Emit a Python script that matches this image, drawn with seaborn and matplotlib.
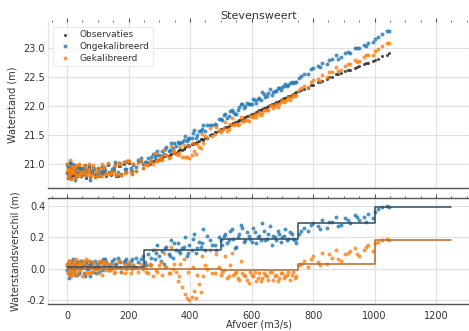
import numpy as np
import pandas as pd
import matplotlib
matplotlib.use("Agg")
import matplotlib.pyplot as plt
from matplotlib.ticker import MultipleLocator, FormatStrFormatter
import seaborn as sns

# --- data ---
# afvoer (m3/s) per observed point
afvoer = [
    0, 3, 6, 9, 12, 15, 18, 21, 24, 27,
    30, 35, 40, 45, 50, 55, 60, 65, 70, 75,
    80, 88, 96, 104, 112, 120, 128, 136, 144, 152,
    160, 168, 176, 184, 192, 200, 208, 216, 224, 232,
    240, 248, 5, 14, 33, 52, 71, 93, 117, 141,
    1, 4, 7, 11, 16, 19, 23, 28, 32, 38,
    43, 48, 57, 63, 68, 77, 84, 92, 100, 108,
    115, 124, 133, 147, 156, 164, 173, 188, 196, 212,
    255, 262, 270, 278, 285, 293, 300, 308, 315, 323,
    330, 338, 345, 353, 360, 368, 375, 383, 390, 398,
    405, 413, 420, 428, 435, 443, 450, 465, 480, 495,
    258, 274, 289, 304, 319, 334, 349, 364, 379, 394,
    409, 424, 439, 454, 470, 485, 500, 510, 520, 530,
    505, 515, 525, 535, 545, 555, 565, 575, 585, 595,
    605, 615, 625, 635, 645, 655, 665, 675, 685, 695,
    705, 715, 725, 735, 745,
    540, 550, 560, 570, 580, 590, 600, 610, 620, 630,
    640, 650, 660, 670, 680, 690, 700, 710, 720, 730, 740,
    755, 770, 785, 800, 815, 830, 845, 860, 875, 890,
    905, 920, 935, 950, 965, 980, 995, 1010, 1025, 1040, 1048,
    762, 792, 822, 852, 882, 912, 942, 972, 1002,
]
# observed water level (m)
waterstand_obs = [
    20.98, 20.80, 20.90, 21.02, 20.78, 20.86, 20.95, 20.82, 20.99, 20.77,
    20.92, 20.84, 20.97, 20.79, 20.89, 20.94, 20.81, 20.87, 20.96, 20.78,
    20.85, 20.91, 20.80, 20.88, 20.83, 20.93, 20.79, 20.86, 20.82, 20.90,
    20.80, 20.97, 20.83, 21.00, 20.86, 21.02, 20.89, 20.98, 20.88, 21.04,
    21.05, 20.93, 20.87, 20.93, 20.88, 20.83, 20.91, 20.85, 20.89, 20.84,
    20.86, 20.93, 20.76, 20.84, 20.99, 20.81, 20.91, 20.85, 20.79, 20.95,
    20.87, 20.82, 20.98, 20.76, 20.90, 20.84, 20.95, 20.78, 20.92, 20.79,
    20.96, 20.84, 20.99, 20.86, 21.01, 20.79, 20.97, 20.87, 21.03, 20.83,
    21.00, 21.02, 21.01, 21.05, 21.07, 21.08, 21.07, 21.11, 21.14, 21.15,
    21.14, 21.18, 21.21, 21.19, 21.23, 21.26, 21.25, 21.29, 21.32, 21.31,
    21.34, 21.37, 21.36, 21.40, 21.43, 21.42, 21.46, 21.50, 21.55, 21.58,
    21.01, 21.05, 21.06, 21.09, 21.14, 21.16, 21.20, 21.25, 21.27, 21.33,
    21.35, 21.38, 21.44, 21.46, 21.52, 21.55, 21.60, 21.63, 21.64, 21.68,
    21.61, 21.64, 21.65, 21.69, 21.73, 21.74, 21.76, 21.79, 21.83, 21.85,
    21.86, 21.90, 21.93, 21.95, 21.97, 22.00, 22.04, 22.06, 22.07, 22.11,
    22.14, 22.16, 22.17, 22.21, 22.25,
    21.71, 21.72, 21.76, 21.77, 21.82, 21.83, 21.87, 21.88, 21.92, 21.93,
    21.97, 21.98, 22.02, 22.03, 22.08, 22.09, 22.13, 22.14, 22.18, 22.19, 22.23,
    22.26, 22.30, 22.32, 22.37, 22.42, 22.44, 22.47, 22.51, 22.55, 22.57,
    22.60, 22.62, 22.66, 22.70, 22.72, 22.74, 22.78, 22.82, 22.86, 22.89, 22.91,
    22.28, 22.36, 22.42, 22.50, 22.55, 22.63, 22.67, 22.74, 22.79,
]
# model minus observation (m)
verschil_ongek = [
    0.02, -0.03, 0.04, 0.01, -0.02, 0.05, -0.01, 0.03, 0.00, -0.04,
    0.02, 0.04, -0.02, 0.01, 0.05, -0.03, 0.03, 0.00, 0.02, -0.05,
    0.04, 0.01, 0.03, -0.02, 0.05, 0.02, 0.04, -0.01, 0.03, 0.06,
    0.02, 0.05, -0.02, 0.04, 0.06, 0.03, 0.05, 0.02, 0.07, 0.04,
    0.06, 0.08, -0.06, 0.04, -0.04, 0.03, 0.05, -0.03, 0.06, 0.02,
    -0.01, 0.03, 0.05, -0.04, 0.02, 0.06, -0.02, 0.04, 0.01, -0.03,
    0.05, 0.02, -0.05, 0.04, 0.00, 0.03, -0.02, 0.05, 0.01, 0.04,
    -0.01, 0.06, 0.02, 0.05, 0.03, 0.07, 0.04, 0.05, 0.03, 0.06,
    0.04, 0.09, 0.02, 0.12, 0.06, 0.15, 0.08, 0.11, 0.03, 0.14,
    0.09, 0.18, 0.07, 0.12, 0.16, 0.10, 0.13, 0.20, 0.08, 0.15,
    0.12, 0.22, 0.10, 0.17, 0.14, 0.25, 0.12, 0.18, 0.15, 0.20,
    0.02, 0.07, 0.10, 0.05, 0.13, 0.08, 0.16, 0.11, 0.14, 0.10,
    0.19, 0.13, 0.16, 0.21, 0.15, 0.12, 0.18, 0.21, 0.16, 0.24,
    0.15, 0.22, 0.18, 0.25, 0.13, 0.20, 0.28, 0.17, 0.23, 0.19,
    0.26, 0.16, 0.21, 0.29, 0.18, 0.22, 0.15, 0.20, 0.24, 0.17,
    0.21, 0.18, 0.23, 0.19, 0.16,
    0.19, 0.14, 0.22, 0.26, 0.18, 0.21, 0.17, 0.23, 0.20, 0.18,
    0.24, 0.19, 0.27, 0.21, 0.18, 0.22, 0.20, 0.25, 0.19, 0.22, 0.18,
    0.22, 0.26, 0.24, 0.29, 0.27, 0.31, 0.26, 0.30, 0.33, 0.28,
    0.32, 0.29, 0.34, 0.31, 0.33, 0.35, 0.32, 0.38, 0.39, 0.40, 0.39,
    0.24, 0.28, 0.25, 0.30, 0.27, 0.31, 0.33, 0.30, 0.36,
]
verschil_gek = [
    0.03, -0.02, 0.01, 0.05, -0.04, 0.02, -0.01, 0.04, -0.03, 0.00,
    0.06, -0.02, 0.03, 0.01, -0.05, 0.04, 0.02, -0.03, 0.05, 0.01,
    -0.02, 0.03, 0.00, 0.05, -0.04, 0.02, 0.04, -0.01, 0.03, -0.03,
    0.01, 0.05, -0.02, 0.03, 0.00, 0.04, -0.03, 0.02, 0.01, -0.02,
    0.03, 0.00, 0.04, -0.05, 0.02, 0.05, -0.03, 0.01, 0.04, -0.01,
    0.02, -0.03, 0.05, 0.00, -0.02, 0.03, 0.05, -0.04, 0.02, 0.04,
    -0.01, 0.03, -0.03, 0.06, 0.01, -0.02, 0.04, 0.00, -0.03, 0.02,
    0.05, -0.01, 0.03, 0.00, -0.02, 0.04, 0.01, -0.03, 0.02, 0.00,
    0.01, -0.03, 0.03, -0.05, 0.12, -0.02, 0.02, -0.04, 0.10, 0.01,
    -0.03, 0.14, 0.00, -0.02, -0.08, 0.03, -0.12, -0.16, -0.19, -0.20,
    -0.18, -0.14, -0.19, -0.10, -0.15, -0.05, 0.02, 0.12, -0.03, 0.01,
    -0.02, 0.02, -0.01, 0.04, 0.01, -0.03, 0.03, -0.05, 0.06, -0.02,
    0.01, -0.04, 0.08, 0.00, -0.03, 0.09, -0.04, -0.01, -0.06, 0.02,
    -0.02, 0.08, -0.05, 0.10, -0.03, -0.06, 0.05, -0.04, -0.07, -0.02,
    -0.05, -0.08, -0.03, -0.06, -0.04, -0.07, -0.02, -0.05, -0.08, -0.03,
    -0.06, -0.04, -0.07, -0.02, -0.05,
    -0.04, -0.02, -0.07, -0.03, -0.05, -0.09, -0.04, -0.02, -0.06, -0.08,
    -0.03, -0.05, -0.02, -0.07, -0.04, -0.06, -0.03, -0.05, -0.02, -0.04, -0.06,
    0.02, 0.05, 0.01, 0.08, 0.04, 0.10, 0.03, 0.07, 0.12, 0.05,
    0.09, 0.11, 0.13, 0.08, 0.12, 0.15, 0.11, 0.17, 0.18, 0.19, 0.18,
    0.03, 0.06, 0.02, 0.09, 0.06, 0.10, 0.09, 0.14, 0.16,
]
# mean difference per discharge class
klassegrenzen = [0, 250, 500, 750, 1000, 1250]
gem_ongek = [0.01, 0.12, 0.19, 0.29, 0.39]
gem_gek = [0.00, 0.00, -0.01, 0.03, 0.18]

df = pd.DataFrame({
    "Afvoer": afvoer,
    "Obs": waterstand_obs,
    "dOngek": verschil_ongek,
    "dGek": verschil_gek,
})
df["Ongek"] = df["Obs"] + df["dOngek"]
df["Gek"] = df["Obs"] + df["dGek"]

sns.set_style("whitegrid")
plt.rcParams["font.family"] = ["DejaVu Sans"]
plt.rcParams["text.color"] = "#333333"
plt.rcParams["axes.labelcolor"] = "#333333"
plt.rcParams["xtick.color"] = "#333333"
plt.rcParams["ytick.color"] = "#333333"

fig = plt.figure(figsize=(4.69, 3.31), dpi=100)
ax1 = fig.add_axes([48 / 469, 1 - 188 / 331, 421 / 469, 166 / 331])
ax2 = fig.add_axes([48 / 469, 1 - 304 / 331, 421 / 469, 106 / 331])

blauw = "#1f77b4"
oranje = "#ff7f0e"

sns.scatterplot(data=df, x="Afvoer", y="Obs", ax=ax1, color="#222222", s=5,
                linewidth=0, alpha=0.8, label="Observaties")
sns.scatterplot(data=df, x="Afvoer", y="Ongek", ax=ax1, color=blauw, s=8,
                linewidth=0, alpha=0.8, label="Ongekalibreerd")
sns.scatterplot(data=df, x="Afvoer", y="Gek", ax=ax1, color=oranje, s=8,
                linewidth=0, alpha=0.8, label="Gekalibreerd")

sns.scatterplot(data=df, x="Afvoer", y="dOngek", ax=ax2, color=blauw, s=8,
                linewidth=0, alpha=0.8)
sns.scatterplot(data=df, x="Afvoer", y="dGek", ax=ax2, color=oranje, s=8,
                linewidth=0, alpha=0.8)
ax2.step(klassegrenzen, gem_ongek + gem_ongek[-1:], where="post",
         color="#2f4a5e", lw=1.1)
ax2.step(klassegrenzen, gem_gek + gem_gek[-1:], where="post",
         color="#b8692a", lw=1.1)

for ax in (ax1, ax2):
    ax.set_xlim(-62, 1307)
    ax.xaxis.set_major_locator(MultipleLocator(200))
    ax.xaxis.set_minor_locator(MultipleLocator(50))
    ax.grid(True, color="#e0e0e0", lw=0.8)
    ax.tick_params(labelsize=7, length=0, pad=2)
    ax.tick_params(axis="x", which="both", top=True, direction="out",
                   colors="#555555", labelcolor="#333333")
    ax.tick_params(axis="x", which="major", length=3)
    ax.tick_params(axis="x", which="minor", length=1.5)
    for s in ("left", "right"):
        ax.spines[s].set_color("#e6e6e6")
        ax.spines[s].set_linewidth(0.8)

ax1.spines["top"].set_visible(False)
ax1.spines["bottom"].set_color("#555555")
ax1.spines["bottom"].set_linewidth(1.0)
ax2.spines["top"].set_color("#555555")
ax2.spines["bottom"].set_color("#555555")
ax2.spines["top"].set_linewidth(1.0)
ax2.spines["bottom"].set_linewidth(1.0)
ax1.tick_params(axis="x", which="both", bottom=False, labelbottom=False)
ax2.tick_params(axis="x", which="both", bottom=False)

ax1.set_ylim(20.59, 23.45)
ax1.yaxis.set_major_locator(MultipleLocator(0.5))
ax1.yaxis.set_major_formatter(FormatStrFormatter("%.1f"))
ax2.set_ylim(-0.226, 0.45)
ax2.yaxis.set_major_locator(MultipleLocator(0.2))
ax2.yaxis.set_major_formatter(FormatStrFormatter("%.1f"))

ax1.set_xlabel("")
ax1.set_ylabel("Waterstand (m)", fontsize=7)
ax2.set_ylabel("Waterstandsverschil (m)", fontsize=7)
ax2.set_xlabel("Afvoer (m3/s)", fontsize=7, labelpad=-1)
ax1.set_title("Stevensweert", fontsize=8, pad=2)

leg = ax1.legend(loc="upper left", fontsize=6.5, frameon=True,
                 handletextpad=0.6, borderpad=0.4, labelspacing=0.3)
leg.get_frame().set_edgecolor("#e6e6e6")
leg.get_frame().set_linewidth(0.8)

fig.savefig("out.png", dpi=100)
